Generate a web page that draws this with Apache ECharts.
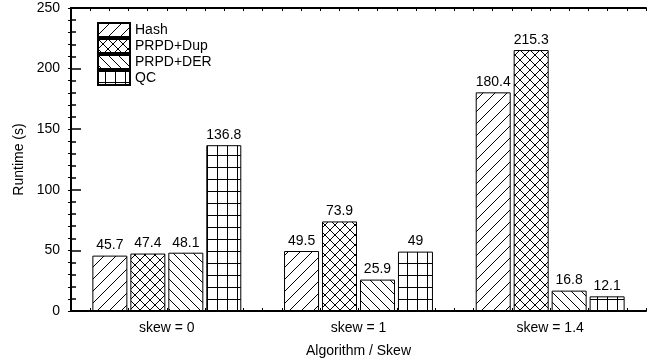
<!DOCTYPE html>
<html>
<head>
<meta charset="utf-8">
<style>
  html, body { margin: 0; padding: 0; background: #fff; }
  #chart { width: 657px; height: 362px; }
</style>
<script src="https://cdn.jsdelivr.net/npm/echarts@6/dist/echarts.min.js"></script>
</head>
<body>
<div id="chart"></div>
<script>
// Runtime per algorithm at each skew level
const categories = ['skew = 0', 'skew = 1', 'skew = 1.4'];
const seriesNames = ['Hash', 'PRPD+Dup', 'PRPD+DER', 'QC'];
const hashValues = [45.7, 49.5, 180.4];
const prpdDupValues = [47.4, 73.9, 215.3];
const prpdDerValues = [48.1, 25.9, 16.8];
const qcValues = [136.8, 49, 12.1];
const yTicks = [0, 50, 100, 150, 200, 250];

const FONT = '"Liberation Sans", Arial, Helvetica, sans-serif';
const FONT_SIZE = 14;

// Hatch fills drawn on small canvases and tiled by the renderer
function makeTile(w, h, draw) {
  const c = document.createElement('canvas');
  c.width = w; c.height = h;
  const ctx = c.getContext('2d');
  ctx.fillStyle = '#fff';
  ctx.fillRect(0, 0, w, h);
  ctx.strokeStyle = '#000';
  ctx.lineWidth = 1;
  ctx.beginPath();
  draw(ctx, w, h);
  ctx.stroke();
  return { image: c, repeat: 'repeat' };
}

function forward(ctx, w, h) {      // "/" lines
  ctx.moveTo(0, h); ctx.lineTo(w, 0);
  ctx.moveTo(-w, h); ctx.lineTo(0, 0);
  ctx.moveTo(w, 2 * h); ctx.lineTo(2 * w, h);
}
function backward(ctx, w, h) {     // "\" lines
  ctx.moveTo(0, 0); ctx.lineTo(w, h);
  ctx.moveTo(-w, 0); ctx.lineTo(0, h);
  ctx.moveTo(w, 0); ctx.lineTo(2 * w, h);
}

const patterns = [
  makeTile(12, 12, forward),
  makeTile(10, 10, (ctx, w, h) => { forward(ctx, w, h); backward(ctx, w, h); }),
  makeTile(10, 10, backward),
  makeTile(10, 12, (ctx, w, h) => {
    ctx.moveTo(0, 11.5); ctx.lineTo(w, 11.5);
    ctx.moveTo(7.5, 0); ctx.lineTo(7.5, h);
  })
];

const valueSets = [hashValues, prpdDupValues, prpdDerValues, qcValues];

const series = seriesNames.map((name, i) => ({
  name: name,
  type: 'bar',
  xAxisIndex: 0,
  yAxisIndex: 0,
  data: valueSets[i],
  barWidth: 35,
  barGap: '8.5%',
  itemStyle: { color: patterns[i], borderColor: '#000', borderWidth: 1 },
  label: {
    show: true,
    position: 'top',
    distance: 3,
    color: '#000',
    fontFamily: FONT,
    fontSize: FONT_SIZE
  }
}));

const chart = echarts.init(document.getElementById('chart'), null, { renderer: 'canvas' });

chart.setOption({
  animation: false,
  backgroundColor: '#fff',
  grid: { left: 71, right: 11, top: 8, bottom: 51, containLabel: false, outerBoundsMode: 'none' },
  legend: {
    data: seriesNames,
    orient: 'vertical',
    left: 97,
    top: 22,
    itemWidth: 32,
    itemHeight: 14,
    itemGap: 0,
    icon: 'rect',
    padding: 0,
    textStyle: { fontFamily: FONT, fontSize: FONT_SIZE, color: '#000', lineHeight: 15 }
  },
  xAxis: [
    {
      type: 'category',
      data: categories,
      position: 'bottom',
      name: 'Algorithm / Skew',
      nameLocation: 'middle',
      nameGap: 33,
      nameTextStyle: { fontFamily: FONT, fontSize: FONT_SIZE, color: '#000' },
      axisLine: { show: true, lineStyle: { color: '#000', width: 2 } },
      axisTick: { show: false },
      axisLabel: { fontFamily: FONT, fontSize: FONT_SIZE, color: '#000', margin: 10 },
      splitLine: { show: false }
    },
    {
      // fine tick marks along the bottom edge
      type: 'value', position: 'bottom', min: 0, max: 30, interval: 1,
      axisLine: { show: false },
      axisTick: { show: true, inside: true, length: 3, lineStyle: { color: '#000' } },
      axisLabel: { show: false }, splitLine: { show: false }
    },
    {
      // top frame with fine tick marks
      type: 'value', position: 'top', min: 0, max: 30, interval: 1,
      axisLine: { show: true, lineStyle: { color: '#000', width: 2 } },
      axisTick: { show: true, inside: true, length: 3, lineStyle: { color: '#000' } },
      axisLabel: { show: false }, splitLine: { show: false }
    }
  ],
  yAxis: [
    {
      type: 'value',
      min: yTicks[0],
      max: yTicks[yTicks.length - 1],
      interval: yTicks[1] - yTicks[0],
      name: 'Runtime (s)',
      nameLocation: 'middle',
      nameGap: 42,
      nameTextStyle: { fontFamily: FONT, fontSize: FONT_SIZE, color: '#000' },
      axisLine: { show: true, lineStyle: { color: '#000', width: 2 } },
      axisTick: { show: true, inside: true, length: 10, lineStyle: { color: '#000', width: 1.5 } },
      minorTick: { show: true, splitNumber: 5, length: 5, lineStyle: { color: '#000', width: 1.5 } },
      axisLabel: { fontFamily: FONT, fontSize: FONT_SIZE, color: '#000', margin: 11 },
      splitLine: { show: false }
    },
    {
      // right frame with fine tick marks
      type: 'value', position: 'right', min: 0, max: 250, interval: 10,
      axisLine: { show: true, lineStyle: { color: '#000', width: 2 } },
      axisTick: { show: true, inside: true, length: 3, lineStyle: { color: '#000' } },
      axisLabel: { show: false }, splitLine: { show: false }
    }
  ],
  series: series
});
</script>
</body>
</html>
